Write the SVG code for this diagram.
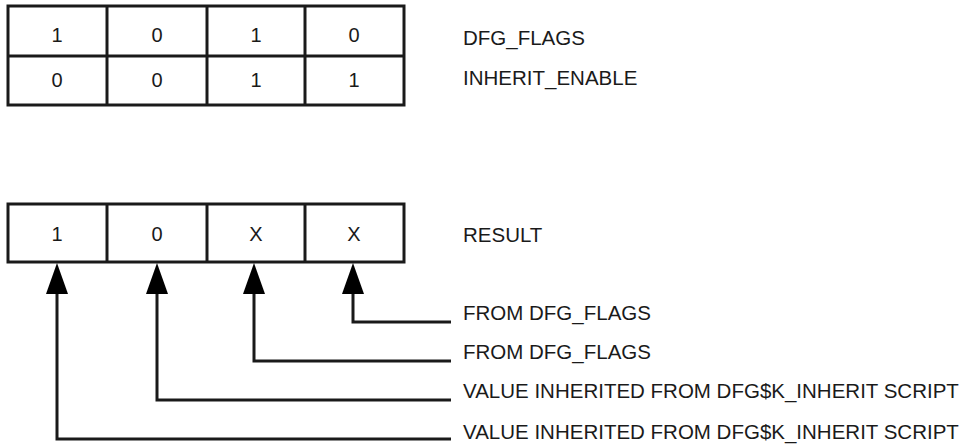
<svg xmlns="http://www.w3.org/2000/svg" width="964" height="445" viewBox="0 0 964 445">
<style>
.box{fill:#fff;stroke:#1a1a1a;stroke-width:3}
.ln{fill:none;stroke:#1a1a1a;stroke-width:3}
.ah{fill:#000}
text{font-family:"Liberation Sans",Arial,sans-serif;font-size:20.5px;fill:#1a1a1a}
.c{text-anchor:middle;font-size:20px}
</style>
<rect width="964" height="445" fill="#fff"/>
<g id="flags">
<rect class="box" x="8" y="6" width="396" height="99"/>
<line class="ln" x1="8" y1="56" x2="404" y2="56"/>
<line class="ln" x1="107" y1="6" x2="107" y2="105"/>
<line class="ln" x1="207" y1="6" x2="207" y2="105"/>
<line class="ln" x1="305" y1="6" x2="305" y2="105"/>
<text class="c" x="57" y="42">1</text>
<text class="c" x="157" y="42">0</text>
<text class="c" x="256" y="42">1</text>
<text class="c" x="354" y="42">0</text>
<text class="c" x="57" y="87">0</text>
<text class="c" x="157" y="87">0</text>
<text class="c" x="256" y="87">1</text>
<text class="c" x="354" y="87">1</text>
<text x="463" y="45">DFG_FLAGS</text>
<text x="463" y="85">INHERIT_ENABLE</text>
</g>
<g id="result">
<rect class="box" x="8" y="204" width="396" height="58"/>
<line class="ln" x1="107" y1="204" x2="107" y2="262"/>
<line class="ln" x1="207" y1="204" x2="207" y2="262"/>
<line class="ln" x1="305" y1="204" x2="305" y2="262"/>
<text class="c" x="57" y="241">1</text>
<text class="c" x="157" y="241">0</text>
<text class="c" x="256" y="241">X</text>
<text class="c" x="354" y="241">X</text>
<text x="463" y="242">RESULT</text>
</g>
<g id="connectors">
<polyline class="ln" points="353,290 353,322 451,322"/>
<polyline class="ln" points="254,290 254,361 451,361"/>
<polyline class="ln" points="157,290 157,400 451,400"/>
<polyline class="ln" points="57,290 57,439 451,439"/>
<polygon class="ah" points="353,263 342,294 364,294"/>
<polygon class="ah" points="254,263 243,294 265,294"/>
<polygon class="ah" points="157,263 146,294 168,294"/>
<polygon class="ah" points="57,263 46,294 68,294"/>
</g>
<g id="labels">
<text x="463" y="320">FROM DFG_FLAGS</text>
<text x="463" y="359">FROM DFG_FLAGS</text>
<text x="463" y="398">VALUE INHERITED FROM DFG$K_INHERIT SCRIPT</text>
<text x="463" y="439">VALUE INHERITED FROM DFG$K_INHERIT SCRIPT</text>
</g>
</svg>
